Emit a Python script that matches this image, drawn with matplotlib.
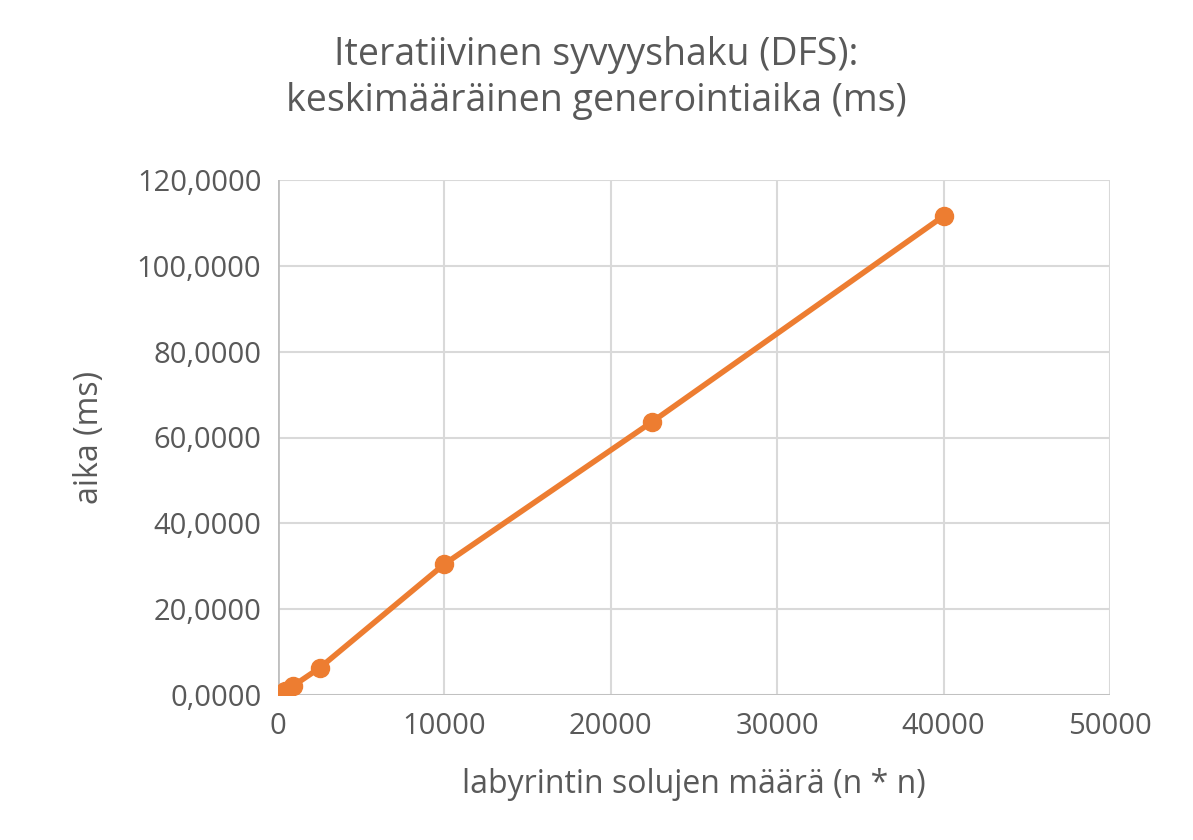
import matplotlib
matplotlib.use("Agg")
import matplotlib.pyplot as plt
from matplotlib.ticker import FuncFormatter

cells = [25, 100, 400, 900, 2500, 10000, 22500, 40000]
times = [0.1, 0.3, 1.0, 2.1, 6.3, 30.5, 63.7, 111.6]

plt.rcParams['font.family'] = ['Open Sans', 'DejaVu Sans']
fig = plt.figure(figsize=(11.93, 8.40), dpi=100)
ax = fig.add_axes([278/1193, 1-695/840, (1110-278)/1193, (695-180)/840])
ax.plot(cells, times, color='#ED7D31', lw=4, marker='o', ms=13, zorder=3)
ax.set_xlim(0, 50000)
ax.set_ylim(0, 120)
ax.set_xticks(range(0, 50001, 10000))
ax.set_yticks(range(0, 121, 20))
ax.yaxis.set_major_formatter(FuncFormatter(lambda v, p: f"{v:.4f}".replace('.', ',')))
ax.grid(True, color='#D9D9D9', lw=1.5)
for s in ax.spines.values():
    s.set_visible(False)
ax.tick_params(length=0, labelsize=21, colors='#595959', pad=12)
ax.axhline(0, color='#BFBFBF', lw=2, zorder=2)
ax.axvline(0, color='#BFBFBF', lw=2, zorder=2)
ax.set_xlabel('labyrintin solujen määrä (n * n)', fontsize=23, color='#595959', labelpad=20)
ax.set_ylabel('aika (ms)', fontsize=23, color='#595959', labelpad=22)
fig.text(0.5, 1-78/840, 'Iteratiivinen syvyyshaku (DFS):\nkeskimääräinen generointiaika (ms)',
         ha='center', va='center', fontsize=27, color='#595959', linespacing=1.25)
fig.savefig('out.png', dpi=100, facecolor='white')
